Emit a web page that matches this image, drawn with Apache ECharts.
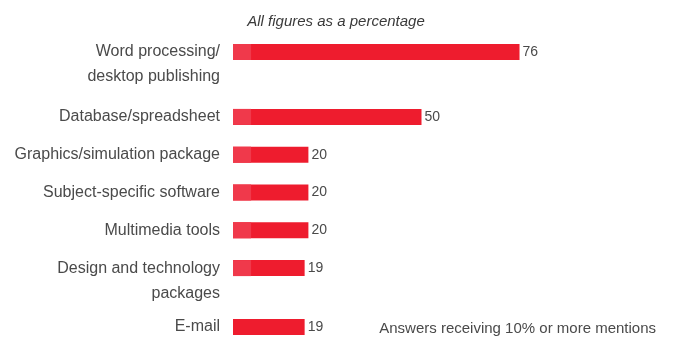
<!DOCTYPE html>
<html>
<head>
<meta charset="utf-8">
<script src="https://cdn.jsdelivr.net/npm/echarts@6/dist/echarts.min.js"></script>
<style>
  html, body { margin: 0; padding: 0; background: #fff; }
  #chart { width: 675px; height: 337px; }
</style>
</head>
<body>
<div id="chart"></div>
<script>
// Software used in lessons, share of respondents (%)
const topCategory = ['Word processing/\ndesktop publishing'];
const topValues = [76];
const topLead = [4.8];

const midCategories = [
  'Database/spreadsheet',
  'Graphics/simulation package',
  'Subject-specific software',
  'Multimedia tools',
  'Design and technology\npackages'
];
const midValues = [50, 20, 20, 20, 19];
const midLead = [4.8, 4.8, 4.8, 4.8, 4.8];

const bottomCategory = ['E-mail'];
const bottomValues = [19];
const bottomLead = [null];

const subtitle = 'All figures as a percentage';
const footnote = 'Answers receiving 10% or more mentions';

const FONT = '"Liberation Sans", Arial, sans-serif';
const RED = '#ee1c2e';
const LIGHT = '#f0394b';
const TEXT = '#4a4a4a';

const chart = echarts.init(document.getElementById('chart'), null, { renderer: 'canvas' });

// three stacked panels share one horizontal scale
const grids = [
  { left: 233, width: 377, top: 33, height: 38 },
  { left: 233, width: 377, top: 98, height: 189 },
  { left: 233, width: 377, top: 308, height: 38 }
].map(g => Object.assign(g, { containLabel: false, outerBoundsMode: 'none' }));

const xAxes = grids.map((g, i) => ({
  type: 'value', gridIndex: i, min: 0, max: 100, show: false
}));

// two-line names: keep the first line level with the bar
const labelFormatter = v => v.indexOf('\n') >= 0 ? '\n' + v : v;

const yAxes = [topCategory, midCategories, bottomCategory].map((cats, i) => ({
  type: 'category', gridIndex: i, data: cats, inverse: true,
  axisLine: { show: false }, axisTick: { show: false }, splitLine: { show: false },
  axisLabel: {
    interval: 0, hideOverlap: false,
    margin: 13, color: TEXT, fontFamily: FONT, fontSize: 16, lineHeight: 25,
    align: 'right', formatter: labelFormatter
  }
}));

function mainSeries(values, i) {
  return {
    type: 'bar', xAxisIndex: i, yAxisIndex: i, data: values,
    barWidth: 16, barGap: '-100%', itemStyle: { color: RED },
    label: {
      show: true, position: 'right', distance: 3,
      color: TEXT, fontFamily: FONT, fontSize: 14
    },
    animation: false, silent: true
  };
}
function leadSeries(values, i) {
  return {
    type: 'bar', xAxisIndex: i, yAxisIndex: i, data: values,
    barWidth: 16, barGap: '-100%', itemStyle: { color: LIGHT },
    animation: false, silent: true
  };
}

chart.setOption({
  animation: false,
  backgroundColor: '#ffffff',
  title: [
    {
      text: subtitle, left: 331, top: 9, textAlign: 'center',
      textStyle: { fontFamily: FONT, fontStyle: 'italic', fontWeight: 'normal', fontSize: 15, color: '#3a3a3a' }
    },
    {
      text: footnote, right: 14, top: 316,
      textStyle: { fontFamily: FONT, fontWeight: 'normal', fontSize: 15, color: TEXT }
    }
  ],
  grid: grids,
  xAxis: xAxes,
  yAxis: yAxes,
  series: [
    mainSeries(topValues, 0), leadSeries(topLead, 0),
    mainSeries(midValues, 1), leadSeries(midLead, 1),
    mainSeries(bottomValues, 2), leadSeries(bottomLead, 2)
  ]
});
</script>
</body>
</html>
